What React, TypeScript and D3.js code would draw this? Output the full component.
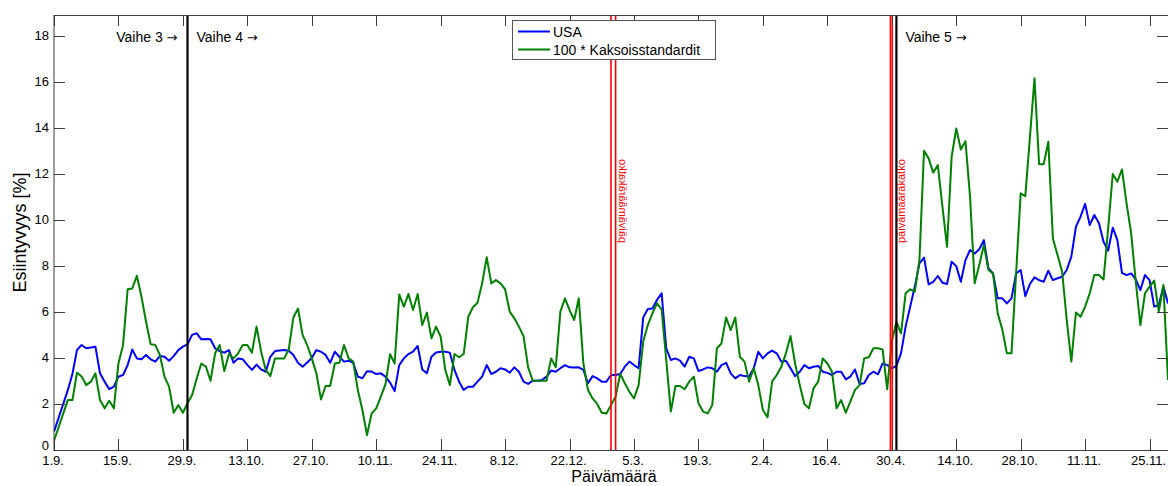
import React from 'react';
import * as d3 from 'd3';

const xTickLabels = ['1.9.', '15.9.', '29.9.', '13.10.', '27.10.', '10.11.', '24.11.', '8.12.', '22.12.', '5.3.', '19.3.', '2.4.', '16.4.', '30.4.', '14.10.', '28.10.', '11.11.', '25.11.'];
const xTickDays = xTickLabels.map((_, i) => i * 14);
const yTicks = [0, 2, 4, 6, 8, 10, 12, 14, 16, 18];

const phaseLines = [29, 183];
const phaseLabels = [
  { day: 29, text: 'Vaihe 3', side: 'left' },
  { day: 29, text: 'Vaihe 4', side: 'right' },
  { day: 183, text: 'Vaihe 5', side: 'right' },
];
const breakLines = [121, 122, 181.7, 182.1];
const breakLabels = [
  { day: 122, mirrored: true },
  { day: 183, mirrored: false },
];

const usaSeries: [number, number][] = [
  [0, 0.8], [3, 2.6], [4, 3.3], [5, 4.35], [6, 4.56], [7, 4.42], [8, 4.45], [9, 4.49], [10, 3.33], [11, 2.97], [12, 2.64], [13, 2.75], [14, 3.19], [15, 3.26], [16, 3.69], [17, 4.37], [18, 3.98], [19, 3.94], [20, 4.13], [21, 3.94], [22, 3.84], [23, 4.08], [24, 4.05], [25, 3.88], [26, 4.08], [27, 4.34], [28, 4.49], [29, 4.59],
  [30, 5.0], [31, 5.07], [32, 4.81], [33, 4.82], [34, 4.81], [35, 4.42], [36, 4.3], [37, 4.23], [38, 4.34], [39, 3.79], [40, 3.98], [41, 3.94], [42, 3.7], [43, 3.48], [44, 3.71], [45, 3.5], [46, 3.4], [47, 4.05], [48, 4.3], [49, 4.32], [50, 4.34], [51, 4.31], [52, 4.13], [53, 3.79], [54, 3.62], [55, 3.8], [56, 4.0], [57, 4.34], [58, 4.27], [59, 4.13],
  [60, 3.79], [61, 4.27], [62, 4.05], [63, 3.84], [64, 3.88], [65, 3.79], [66, 3.19], [67, 3.12], [68, 3.42], [69, 3.41], [70, 3.3], [71, 3.33], [72, 3.19], [73, 2.93], [74, 2.56], [75, 3.69], [76, 3.98], [77, 4.17], [78, 4.27], [79, 4.52], [80, 3.5], [81, 3.33], [82, 4.05], [83, 4.24], [84, 4.27], [85, 4.27], [86, 4.23], [87, 3.48], [88, 2.97], [89, 2.61],
  [90, 2.75], [91, 2.75], [92, 2.97], [93, 3.19], [94, 3.69], [95, 3.3], [96, 3.4], [97, 3.55], [98, 3.5], [99, 3.36], [100, 3.59], [101, 3.4], [102, 2.97], [103, 2.87], [104, 3.01], [105, 3.01], [106, 3.04], [107, 3.19], [108, 3.45], [109, 3.4], [110, 3.55], [111, 3.69], [112, 3.59], [113, 3.58], [114, 3.59], [115, 3.48], [116, 2.9], [117, 3.21], [118, 3.11], [119, 2.97],
  [120, 2.97], [121, 3.26], [122, 3.26], [123, 3.3], [124, 3.62], [125, 3.84], [126, 3.69], [127, 3.55], [128, 5.76], [129, 6.13], [130, 6.15], [131, 6.52], [132, 6.81], [133, 4.42], [134, 3.91], [135, 3.98], [136, 3.88], [137, 3.62], [138, 4.05], [139, 3.98], [140, 3.43], [141, 3.5], [142, 3.59], [143, 3.55], [144, 3.4], [145, 3.69], [146, 3.79], [147, 3.33], [148, 3.11], [149, 3.26],
  [150, 3.21], [151, 3.19], [152, 3.55], [153, 4.27], [154, 3.98], [155, 4.2], [156, 4.32], [157, 4.2], [158, 3.84], [159, 3.88], [160, 3.55], [161, 3.21], [162, 3.4], [163, 3.69], [164, 3.55], [165, 3.62], [166, 3.65], [167, 3.4], [168, 3.35], [169, 3.26], [170, 3.4], [171, 3.4], [172, 3.07], [173, 3.19], [174, 3.5], [175, 2.87], [176, 2.9], [177, 3.26], [178, 3.4], [179, 3.29],
  [180, 3.76], [181, 3.69], [182, 3.55], [183, 3.65], [184, 4.2], [185, 5.36], [186, 6.23], [187, 7.1], [188, 8.11], [189, 8.36], [190, 7.2], [191, 7.31], [192, 7.56], [193, 7.27], [194, 7.21], [195, 8.18], [196, 7.99], [197, 7.31], [198, 8.25], [199, 8.69], [200, 8.54], [201, 8.72], [202, 9.12], [203, 7.89], [204, 7.67], [205, 6.59], [206, 6.59], [207, 6.37], [208, 6.59], [209, 7.67],
  [210, 7.82], [211, 6.69], [212, 7.21], [213, 7.5], [214, 7.38], [215, 7.31], [216, 7.79], [217, 7.38], [218, 7.46], [219, 7.53], [220, 7.82], [221, 8.4], [222, 9.7], [223, 10.14], [224, 10.69], [225, 9.77], [226, 10.21], [227, 9.85], [228, 9.05], [229, 8.66], [230, 9.66], [231, 9.12], [232, 7.7], [233, 7.6], [234, 7.67], [235, 7.41], [236, 6.95], [237, 7.6], [238, 7.38], [239, 6.23],
  [240, 6.3], [241, 7.1], [242, 6.37],
];

const twinSeries: [number, number][] = [
  [0, 0.4], [3, 2.17], [4, 2.17], [5, 3.36], [6, 3.19], [7, 2.82], [8, 2.97], [9, 3.33], [10, 2.17], [11, 1.81], [12, 2.14], [13, 1.81], [14, 3.76], [15, 4.56], [16, 6.98], [17, 7.02], [18, 7.57], [19, 6.66], [20, 5.57], [21, 4.59], [22, 4.56], [23, 4.13], [24, 3.19], [25, 2.75], [26, 1.62], [27, 1.95], [28, 1.62], [29, 2.03],
  [30, 2.39], [31, 3.11], [32, 3.76], [33, 3.62], [34, 3.01], [35, 4.2], [36, 4.56], [37, 3.43], [38, 4.17], [39, 3.98], [40, 4.2], [41, 4.56], [42, 4.56], [43, 4.23], [44, 5.36], [45, 4.27], [46, 3.48], [47, 3.21], [48, 3.98], [49, 3.98], [50, 3.98], [51, 4.37], [52, 5.76], [53, 6.15], [54, 5.0], [55, 4.56], [56, 3.98], [57, 3.33], [58, 2.2], [59, 2.78],
  [60, 2.78], [61, 3.76], [62, 3.79], [63, 4.56], [64, 3.98], [65, 3.84], [66, 2.61], [67, 1.74], [68, 0.65], [69, 1.59], [70, 1.81], [71, 2.32], [72, 2.85], [73, 4.16], [74, 3.76], [75, 6.76], [76, 6.23], [77, 6.78], [78, 6.08], [79, 6.78], [80, 5.43], [81, 5.97], [82, 4.85], [83, 5.36], [84, 4.92], [85, 3.48], [86, 2.82], [87, 4.17], [88, 4.03], [89, 4.17],
  [90, 5.79], [91, 6.2], [92, 6.4], [93, 7.24], [94, 8.37], [95, 7.24], [96, 7.38], [97, 7.24], [98, 6.98], [99, 6.01], [100, 5.72], [101, 5.36], [102, 4.95], [103, 3.59], [104, 3.01], [105, 3.01], [106, 3.01], [107, 3.01], [108, 3.98], [109, 3.59], [110, 6.01], [111, 6.59], [112, 6.08], [113, 5.65], [114, 6.59], [115, 3.76], [116, 2.61], [117, 2.24], [118, 2.0], [119, 1.62],
  [120, 1.59], [121, 1.95], [122, 2.32], [123, 3.3], [124, 2.9], [125, 2.53], [126, 2.24], [127, 2.82], [128, 4.71], [129, 5.43], [130, 5.94], [131, 6.37], [132, 6.11], [133, 3.91], [134, 1.67], [135, 2.78], [136, 2.78], [137, 2.64], [138, 2.97], [139, 3.19], [140, 2.03], [141, 1.67], [142, 1.59], [143, 1.95], [144, 4.42], [145, 4.63], [146, 5.76], [147, 5.21], [148, 5.76], [149, 4.05],
  [150, 3.84], [151, 2.97], [152, 3.55], [153, 2.82], [154, 1.74], [155, 1.42], [156, 2.97], [157, 3.26], [158, 3.62], [159, 4.2], [160, 4.95], [161, 3.76], [162, 2.82], [163, 2.0], [164, 1.81], [165, 2.68], [166, 2.97], [167, 3.98], [168, 3.76], [169, 3.4], [170, 1.81], [171, 2.17], [172, 1.62], [173, 2.1], [174, 2.61], [175, 2.82], [176, 3.98], [177, 4.03], [178, 4.42], [179, 4.42],
  [180, 4.37], [181, 2.64], [182, 4.71], [183, 5.57], [184, 5.07], [185, 6.81], [186, 6.98], [187, 6.88], [188, 8.25], [189, 13.0], [190, 12.67], [191, 12.05], [192, 12.38], [193, 10.57], [194, 8.83], [195, 12.74], [196, 13.97], [197, 13.06], [198, 13.42], [199, 11.0], [200, 7.24], [201, 8.04], [202, 8.91], [203, 7.82], [204, 7.67], [205, 5.94], [206, 5.24], [207, 4.2], [208, 4.2], [209, 7.67],
  [210, 11.15], [211, 11.03], [212, 13.58], [213, 16.15], [214, 12.42], [215, 12.42], [216, 13.39], [217, 9.19], [218, 8.47], [219, 7.75], [220, 5.65], [221, 3.84], [222, 5.97], [223, 5.79], [224, 6.23], [225, 6.81], [226, 7.6], [227, 7.6], [228, 7.41], [229, 9.63], [230, 11.99], [231, 11.66], [232, 12.19], [233, 10.72], [234, 9.41], [235, 7.31], [236, 5.43], [237, 6.81], [238, 7.1], [239, 7.36],
  [240, 6.01], [241, 7.17], [242, 3.04],
];

const seriesNames = ['USA', '100 * Kaksoisstandardit'];
const seriesColors = ['#0000ff', '#008000'];

const FONT = "'Liberation Sans', Arial, Helvetica, sans-serif";

export default function App() {
  const W = 1168, H = 486;
  const left = 54, right = 1168, top = 15, bottom = 450;
  const x = d3.scaleLinear().domain([0, 242]).range([left, right]);
  const y = d3.scaleLinear().domain([0, 18.9]).range([bottom, top]);
  const line = d3.line<[number, number]>().x(d => x(d[0])).y(d => y(d[1]));
  const tickLen = 11;
  const axisColor = '#3a3a3a';

  return (
    <svg width={W} height={H} style={{ position: 'fixed', left: 0, top: 0, background: '#fff' }} fontFamily={FONT}>
      <rect x={0} y={0} width={W} height={H} fill="#fff" />
      <defs>
        <clipPath id="plot"><rect x={left} y={top} width={right - left} height={bottom - top} /></clipPath>
      </defs>
      <g clipPath="url(#plot)">
        <path d={line(usaSeries) || ''} fill="none" stroke={seriesColors[0]} strokeWidth={2} strokeLinejoin="round" />
        <path d={line(twinSeries) || ''} fill="none" stroke={seriesColors[1]} strokeWidth={2} strokeLinejoin="round" />
        {breakLines.map((d, i) => (
          <line key={'b' + i} x1={x(d)} x2={x(d)} y1={top} y2={bottom} stroke="#ff0000" strokeWidth={1.6} />
        ))}
        {phaseLines.map((d, i) => (
          <line key={'p' + i} x1={x(d)} x2={x(d)} y1={top} y2={bottom} stroke="#000" strokeWidth={2.2} />
        ))}
      </g>
      {/* frame */}
      <rect x={left} y={top + 0.5} width={right - left + 2} height={bottom - top} fill="none" stroke={axisColor} strokeWidth={1} />
      {/* y ticks */}
      {yTicks.map(t => (
        <g key={'y' + t}>
          <line x1={left} x2={left + tickLen} y1={Math.round(y(t)) + 0.5} y2={Math.round(y(t)) + 0.5} stroke={axisColor} />
          <line x1={right} x2={right - tickLen} y1={Math.round(y(t)) + 0.5} y2={Math.round(y(t)) + 0.5} stroke={axisColor} />
          <text x={left - 5} y={y(t) + (t === 0 ? 0.3 : 4)} textAnchor="end" fontSize={13} fill="#000">{t}</text>
        </g>
      ))}
      {/* x ticks */}
      {xTickDays.map((d, i) => (
        <g key={'x' + i}>
          <line x1={Math.round(x(d)) + 0.5} x2={Math.round(x(d)) + 0.5} y1={bottom} y2={bottom - tickLen} stroke={axisColor} />
          <line x1={Math.round(x(d)) + 0.5} x2={Math.round(x(d)) + 0.5} y1={top} y2={top + tickLen} stroke={axisColor} />
          <text x={x(d) - 1} y={bottom + 15} textAnchor="middle" fontSize={13} fill="#000">{xTickLabels[i]}</text>
        </g>
      ))}
      {/* phase labels */}
      {phaseLabels.map((p, i) => (
        <text key={'pl' + i} x={p.side === 'left' ? x(p.day) - 10 : x(p.day) + 9} y={42}
          textAnchor={p.side === 'left' ? 'end' : 'start'} fontSize={14} fill="#000">
          {p.text + ' '}<tspan fontFamily="'DejaVu Sans', sans-serif" fontSize={13}>{'\u2192'}</tspan>
        </text>
      ))}
      {/* break labels */}
      {breakLabels.map((b, i) => {
        const bx = b.mirrored ? x(b.day) + 3 : x(b.day) + 9;
        const by = 243;
        const tr = b.mirrored
          ? `translate(${bx},${by}) scale(-1,1) rotate(-90)`
          : `translate(${bx},${by}) rotate(-90)`;
        return (
          <text key={'bl' + i} transform={tr} fontSize={11} fill="#ff0000">päivämääräkatko</text>
        );
      })}
      {/* axis titles */}
      <text transform={`translate(26,${(top + bottom) / 2}) rotate(-90)`} textAnchor="middle" fontSize={18} fill="#000">Esiintyvyys [%]</text>
      <text x={(left + right) / 2 + 3} y={482.4} textAnchor="middle" fontSize={16} fill="#000">Päivämäärä</text>
      {/* legend */}
      <g>
        <rect x={512.5} y={20.5} width={203} height={39} fill="#fff" stroke="#555" strokeWidth={1} />
        {seriesNames.map((n, i) => (
          <g key={'lg' + i}>
            <line x1={518} x2={550} y1={31.5 + i * 18} y2={31.5 + i * 18} stroke={seriesColors[i]} strokeWidth={2} />
            <text x={553} y={36.5 + i * 18} fontSize={14} fill="#000">{n}</text>
          </g>
        ))}
      </g>
    </svg>
  );
}
